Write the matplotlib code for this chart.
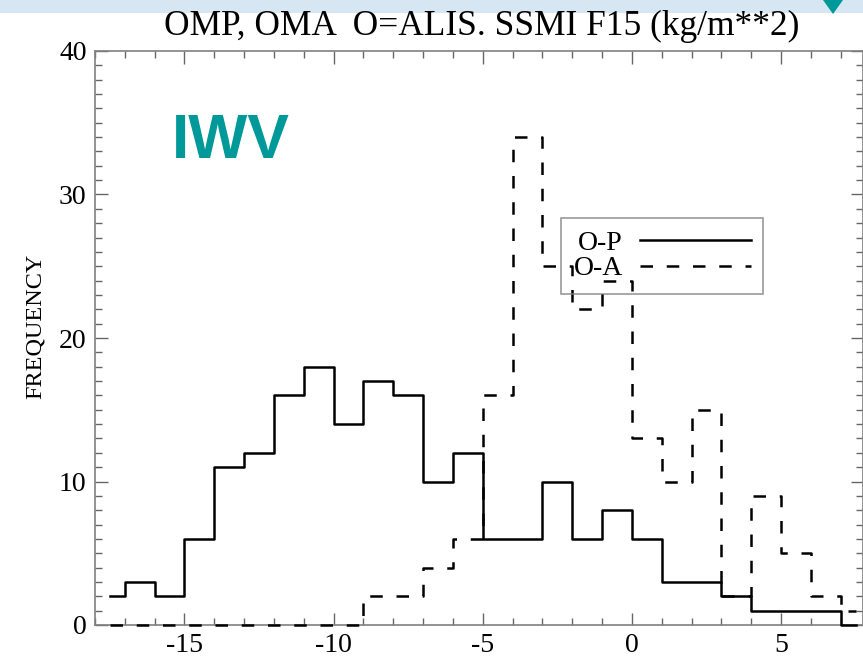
import matplotlib.pyplot as plt
from matplotlib.patches import Rectangle, Polygon

# bin centres and counts
bin_centers = [-17.5, -16.5, -15.5, -14.5, -13.5, -12.5, -11.5, -10.5, -9.5,
               -8.5, -7.5, -6.5, -5.5, -4.5, -3.5, -2.5, -1.5, -0.5,
               0.5, 1.5, 2.5, 3.5, 4.5, 5.5, 6.5, 7.5]
omp = [2, 3, 2, 6, 11, 12, 16, 18, 14, 17, 16, 10, 12, 6, 6, 10, 6, 8,
       6, 3, 3, 2, 1, 1, 1, 0]
oma = [0, 0, 0, 0, 0, 0, 0, 0, 0, 2, 2, 4, 6, 16, 34, 25, 22, 24,
       13, 10, 15, 2, 9, 5, 2, 1]
x_ticks = [-15, -10, -5, 0, 5]
y_ticks = [0, 10, 20, 30, 40]

plt.rcParams['font.family'] = ['Liberation Serif', 'DejaVu Serif']
plt.rcParams['axes.unicode_minus'] = False

fig = plt.figure(figsize=(8.63, 6.65), dpi=100)

# light blue strip with teal marker at the very top
fig.patches.append(Rectangle((0, 1 - 13 / 665), 1, 13 / 665, transform=fig.transFigure,
                             facecolor='#d6e7f3', edgecolor='none'))
fig.patches.append(Polygon([(823 / 863, 1), (843 / 863, 1), (833 / 863, 1 - 14 / 665)],
                           transform=fig.transFigure, facecolor='#00999a', edgecolor='none'))

ax = fig.add_axes([95 / 863, 40 / 665, 768 / 863, 574 / 665])

ax.step(bin_centers, omp, where='mid', color='black', lw=1.8, label='O-P',
        clip_on=False, zorder=3)
ax.step(bin_centers, oma, where='mid', color='black', lw=1.8,
        linestyle=(0, (5, 5.5)), label='O-A', clip_on=False, zorder=3)

ax.set_xlim(-18, 7.75)
ax.set_ylim(0, 40)
ax.set_xticks(x_ticks)
ax.set_xticks(range(-18, 8), minor=True)
ax.set_yticks(y_ticks)
ax.set_yticks(range(0, 41), minor=True)
ax.tick_params(which='both', direction='in', top=True, right=True,
               color='#666666', labelsize=20, pad=6)
ax.tick_params(which='major', length=9, width=1)
ax.tick_params(which='minor', length=5, width=1)
for s in ax.spines.values():
    s.set_color('#808080')
    s.set_linewidth(1.2)

fig.text(35 / 863, 1 - 326 / 665, 'FREQUENCY', rotation=90, ha='center', va='center',
         fontsize=17.5)
fig.text(482 / 863, 1 - 26 / 665, 'OMP, OMA  O=ALIS. SSMI F15 (kg/m**2)',
         ha='center', va='center', fontsize=25.5)

ax.text(172 / 863, 1 - 142 / 665, 'IWV', transform=fig.transFigure, ha='left', va='center',
        fontsize=45, fontweight='bold', color='#00999a', family='Liberation Sans')

leg = ax.legend(loc='upper left', bbox_to_anchor=(0.607, 0.709), markerfirst=False,
                fontsize=20, handlelength=4.0, handletextpad=0.6, labelspacing=0.0,
                borderpad=0.45, borderaxespad=0, fancybox=False, frameon=True)
leg.get_frame().set_facecolor('none')
leg.get_frame().set_edgecolor('#808080')
leg.get_frame().set_linewidth(1.2)

fig.savefig('out.png', dpi=100)
